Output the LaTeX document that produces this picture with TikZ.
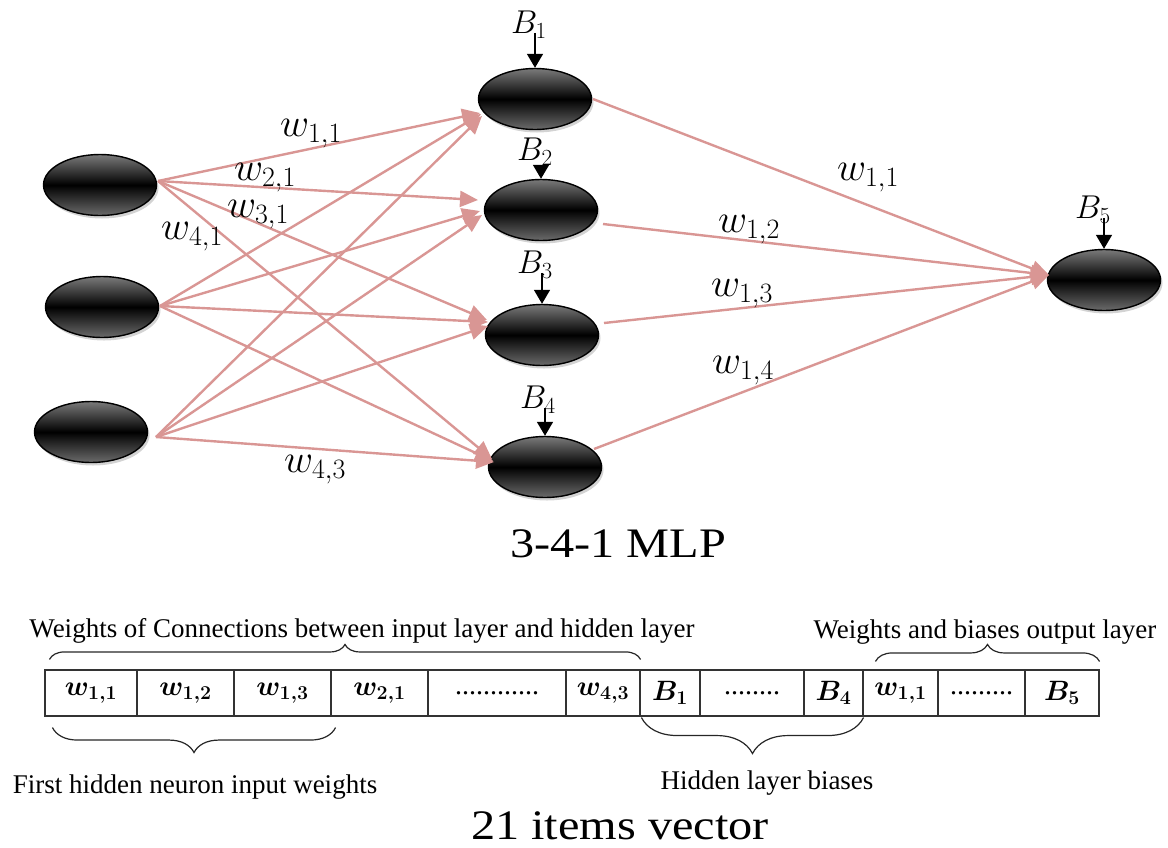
\RequirePackage{fix-cm}
\documentclass[tikz,border=0pt]{standalone}
\usepackage{fontspec}
\setmainfont{Liberation Serif}
\newfontfamily\capfont[FakeStretch=1.15]{Liberation Serif}
\usetikzlibrary{arrows.meta,shadows,decorations.pathreplacing,shapes.geometric}
\definecolor{pinkline}{RGB}{217,150,148}
\begin{document}
\begin{tikzpicture}[x=1pt,y=-1pt,
  neuron/.style={ellipse, draw=black, line width=1.4pt, minimum width=113pt, minimum height=61pt, inner sep=0pt,
    top color=black!52, bottom color=black!58, middle color=black,
    drop shadow={shadow xshift=2pt, shadow yshift=-3pt, opacity=0.35}},
  conn/.style={draw=pinkline, line width=2.4pt, -{Triangle[length=18pt,width=16pt]}},
  biasarrow/.style={line width=1.6pt, -{Triangle[length=14pt,width=16pt]}},
  wlab/.style={inner sep=0pt, font=\fontsize{40}{42}\selectfont},
  blab/.style={inner sep=0pt, font=\fontsize{33}{35}\selectfont},
  cell/.style={draw=black!80, line width=1.1pt, minimum height=46pt, inner sep=0pt, font=\fontsize{28}{30}\selectfont\boldmath},
  note/.style={inner sep=0pt, font=\fontsize{27}{30}\selectfont},
  capt/.style={inner sep=0pt, font=\capfont\fontsize{42}{46}\selectfont},
  curly/.style={decorate, decoration={brace, amplitude=#1}, line width=1.2pt, draw=black!85},
]
\path[use as bounding box] (0,0) rectangle (1168,847);

% neurons
\node[neuron] (i1) at (100,185) {};
\node[neuron] (i2) at (102,307) {};
\node[neuron] (i3) at (91,432) {};
\node[neuron] (h1) at (535,99) {};
\node[neuron] (h2) at (541,210) {};
\node[neuron] (h3) at (542,335) {};
\node[neuron] (h4) at (545,467) {};
\node[neuron] (o) at (1104,280) {};

% ports
\coordinate (i1o) at (158,181);
\coordinate (i2o) at (160,306);
\coordinate (i3o) at (156,437);
\coordinate (h1a) at (480,113);
\coordinate (h1b) at (481,114);
\coordinate (h1c) at (482,116);
\coordinate (h2a) at (478,200);
\coordinate (h2b) at (480,211);
\coordinate (h2c) at (482,215);
\coordinate (h3a) at (487,320);
\coordinate (h3b) at (488,322);
\coordinate (h3c) at (488,326);
\coordinate (h4a) at (492,459);
\coordinate (h4b) at (493,461);
\coordinate (h4c) at (494,462);
\coordinate (h1o) at (593,99);
\coordinate (h2o) at (603,224);
\coordinate (h3o) at (604,323);
\coordinate (h4o) at (594,449);
\coordinate (oi) at (1049,275);

% input -> hidden
\foreach \s/\t in {i1o/h1a,i1o/h2a,i1o/h3a,i1o/h4a,i2o/h1b,i2o/h2b,i2o/h3b,i2o/h4b,i3o/h1c,i3o/h2c,i3o/h3c,i3o/h4c}
  \draw[conn] (\s) -- (\t);
% hidden -> output
\foreach \s in {h1o,h2o,h3o,h4o}
  \draw[conn] (\s) -- (oi);

% weight labels
\node[wlab] (l11) at (311,134) {$w_{1,1}$};
\node[wlab] (l21) at (265,178) {$w_{2,1}$};
\node[wlab] (l31) at (258,215) {$w_{3,1}$};
\node[wlab] (l41) at (192,237) {$w_{4,1}$};
\node[wlab] (l43) at (315,470) {$w_{4,3}$};
\node[wlab] (r11) at (868,178) {$w_{1,1}$};
\node[wlab] (r12) at (749,230) {$w_{1,2}$};
\node[wlab] (r13) at (742,294) {$w_{1,3}$};
\node[wlab] (r14) at (743,371) {$w_{1,4}$};

% biases
\node[blab] (b1) at (529,25) {$B_1$};
\node[blab] (b2) at (535,152) {$B_2$};
\node[blab] (b3) at (535,265) {$B_3$};
\node[blab] (b4) at (538,400) {$B_4$};
\node[blab] (b5) at (1093,210) {$B_5$};
\draw[biasarrow, shorten <=-6pt] (b1.south -| h1.north) -- (h1.north);
\draw[biasarrow, shorten <=-6pt] (b2.south -| h2.north) -- (h2.north);
\draw[biasarrow, shorten <=-6pt] (b3.south -| h3.north) -- (h3.north);
\draw[biasarrow, shorten <=-6pt] (b4.south -| h4.north) -- (h4.north);
\draw[biasarrow, shorten <=-6pt] (b5.south -| o.north) -- (o.north);

\node[capt] (cap1) at (618,544) {3-4-1 MLP};

% vector cells
\node[cell, minimum width=92pt] (c1) at (91,693) {$w_{1,1}$};
\node[cell, minimum width=97pt] (c2) at (185.5,693) {$w_{1,2}$};
\node[cell, minimum width=97pt] (c3) at (282.5,693) {$w_{1,3}$};
\node[cell, minimum width=97pt] (c4) at (379.5,693) {$w_{2,1}$};
\node[cell, minimum width=138pt] (c5) at (497,693) {............};
\node[cell, minimum width=74pt] (c6) at (603,693) {$w_{4,3}$};
\node[cell, minimum width=60pt] (c7) at (670,693) {$B_1$};
\node[cell, minimum width=104pt] (c8) at (752,693) {........};
\node[cell, minimum width=59pt] (c9) at (833.5,693) {$B_4$};
\node[cell, minimum width=75pt] (c10) at (900.5,693) {$w_{1,1}$};
\node[cell, minimum width=87pt] (c11) at (981.5,693) {.........};
\node[cell, minimum width=74pt] (c12) at (1062,693) {$B_5$};

% braces
\draw[curly=15pt] ([xshift=5pt,yshift=10pt]c1.north west) -- ([yshift=10pt]c6.north east);
\draw[curly=17pt] ([xshift=13pt,yshift=8pt]c10.north west) -- ([yshift=8pt]c12.north east);
\draw[curly=25pt] ([xshift=4pt,yshift=-11pt]c3.south east) -- ([xshift=8pt,yshift=-11pt]c1.south west);
\draw[curly=36pt] ([yshift=-1pt]c9.south east) -- ([xshift=2pt,yshift=-1pt]c7.south west);

% notes
\node[note] (n1) at (362,631) {Weights of Connections between input layer and hidden layer};
\node[note] (n2) at (985,632) {Weights and biases output layer};
\node[note] (n3) at (195,787) {First hidden neuron input weights};
\node[note] (n4) at (767,783) {Hidden layer biases};

\node[capt] (cap2) at (620,826) {21 items vector};
\end{tikzpicture}
\end{document}
